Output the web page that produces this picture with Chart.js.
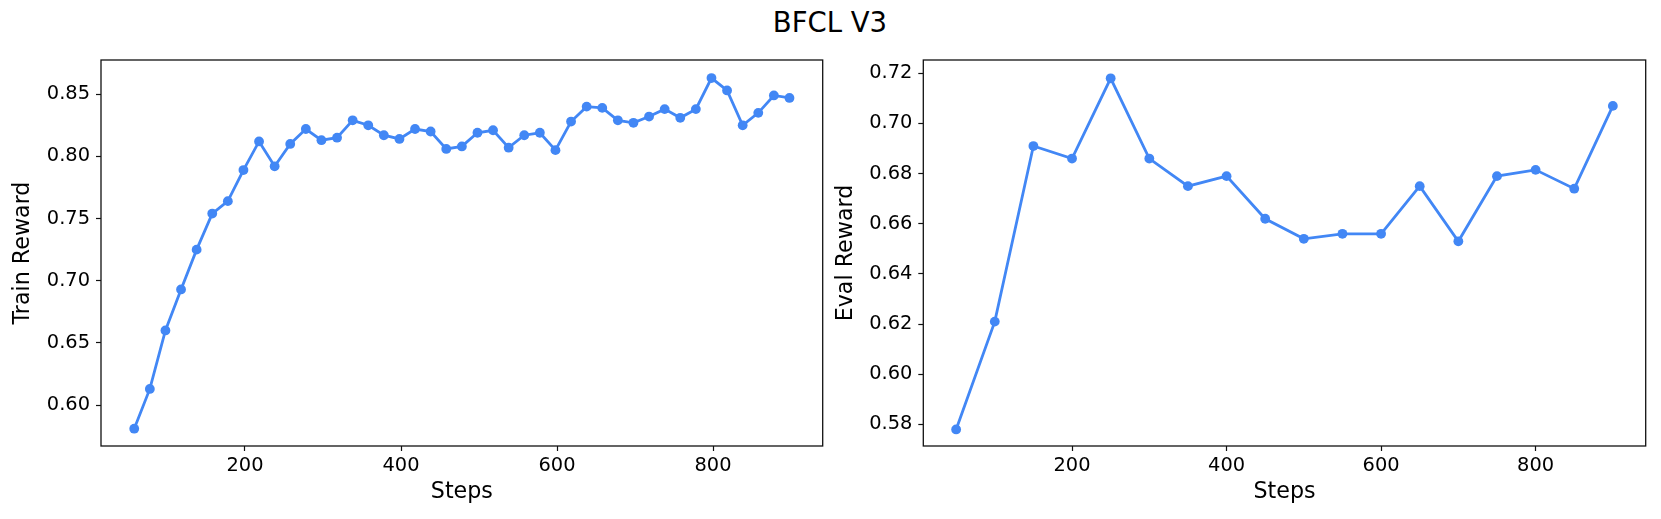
<!DOCTYPE html>
<html>
<head>
<meta charset="utf-8">
<script src="https://cdn.jsdelivr.net/npm/chart.js@4.4.1/dist/chart.umd.min.js"></script>
<style>
  body { margin: 0; background: #fff; width: 1661px; height: 519px; overflow: hidden; position: relative; font-family: 'DejaVu Sans'; }
  #title { position: absolute; left: 0; top: 6px; width: 1660px; text-align: center; font-size: 27.5px; line-height: 32px; color: #000; }
  .box { position: absolute; top: 0; height: 519px; }
  #leftBox { left: 0; width: 830px; }
  #rightBox { left: 830px; width: 831px; }
</style>
</head>
<body>
<div id="title">BFCL V3</div>
<div class="box" id="leftBox"><canvas id="train" width="830" height="519"></canvas></div>
<div class="box" id="rightBox"><canvas id="eval" width="831" height="519"></canvas></div>
<script>
// train curve
const trainSteps = [58, 78, 98, 118, 138, 158, 178, 198, 218, 238, 258, 278, 298, 318, 338, 358, 378, 398, 418, 438, 458, 478,
  498, 518, 538, 558, 578, 598, 618, 638, 658, 678, 698, 718, 738, 758, 778, 798, 818, 838, 858, 878, 898];
const trainReward = [0.581, 0.613, 0.660, 0.693, 0.725, 0.754, 0.764, 0.789, 0.812, 0.792, 0.810, 0.822, 0.813, 0.815, 0.829,
  0.825, 0.817, 0.814, 0.822, 0.820, 0.806, 0.808, 0.819, 0.821, 0.807, 0.817, 0.819, 0.805, 0.828, 0.840, 0.839, 0.829,
  0.827, 0.832, 0.838, 0.831, 0.838, 0.863, 0.853, 0.825, 0.835, 0.849, 0.847];

// eval curve, right panel
const evalSteps = [50, 100, 150, 200, 250, 300, 350, 400, 450, 500, 550, 600, 650, 700, 750, 800, 850, 900];
const evalReward = [0.578, 0.621, 0.691, 0.686, 0.718, 0.686, 0.675, 0.679, 0.662, 0.654, 0.656, 0.656, 0.675, 0.653,
  0.679, 0.6815, 0.674, 0.707];

const stepTicks = [200, 400, 600, 800];
const trainTicks = [0.60, 0.65, 0.70, 0.75, 0.80, 0.85];
const evalTicks = [0.58, 0.60, 0.62, 0.64, 0.66, 0.68, 0.70, 0.72];

Chart.defaults.font.family = 'DejaVu Sans';
Chart.defaults.color = '#000';

const blue = '#4287f5';

// matplotlib style box around the plot area
const frame = {
  id: 'frame',
  afterDraw(chart) {
    const a = chart.chartArea, c = chart.ctx;
    c.save();
    c.strokeStyle = '#111';
    c.lineWidth = 1.3;
    c.strokeRect(a.left, a.top, a.right - a.left, a.bottom - a.top);
    c.restore();
  }
};

const tickGrid = { drawOnChartArea: false, tickLength: 5, tickColor: '#111', tickWidth: 1.2 };

function makeChart(id, steps, values, yTicks, o) {
  return new Chart(document.getElementById(id), {
    type: 'line',
    data: {
      datasets: [{
        data: steps.map((s, i) => ({ x: s, y: values[i] })),
        borderColor: blue,
        backgroundColor: blue,
        borderWidth: 2.8,
        pointRadius: 4.9,
        pointBorderWidth: 0,
        pointHoverRadius: 4.9,
        tension: 0
      }]
    },
    options: {
      responsive: false,
      animation: false,
      events: [],
      layout: { padding: { left: 0, top: 60, right: o.padRight, bottom: 0 } },
      plugins: { legend: { display: false }, tooltip: { enabled: false } },
      scales: {
        x: {
          type: 'linear',
          min: o.xMin,
          max: o.xMax,
          afterBuildTicks: s => { s.ticks = stepTicks.map(v => ({ value: v })); },
          afterFit: s => { s.height = 73; },
          grid: tickGrid,
          border: { display: false },
          ticks: { font: { size: 19.4 }, padding: 3, maxRotation: 0, callback: v => String(v) },
          title: { display: true, text: 'Steps', font: { size: 22.2 }, padding: { top: 0, bottom: 13.8 } }
        },
        y: {
          min: o.yMin,
          max: o.yMax,
          afterBuildTicks: s => { s.ticks = yTicks.map(v => ({ value: v })); },
          afterFit: s => { s.width = o.yWidth; },
          grid: tickGrid,
          border: { display: false },
          ticks: { font: { size: 19.4 }, padding: 6, callback: v => v.toFixed(2) },
          title: { display: true, text: o.yLabel, font: { size: 22.2 }, padding: { top: o.titlePad, bottom: 0 } }
        }
      }
    },
    plugins: [frame]
  });
}

makeChart('train', trainSteps, trainReward, trainTicks, {
  xMin: 15.4, xMax: 940.6, yMin: 0.5671, yMax: 0.8775,
  padRight: 7.3, yWidth: 101, titlePad: 10.3, yLabel: 'Train Reward'
});

makeChart('eval', evalSteps, evalReward, evalTicks, {
  xMin: 7.5, xMax: 942.5, yMin: 0.5714, yMax: 0.7253,
  padRight: 15.3, yWidth: 93.3, titlePad: 2.6, yLabel: 'Eval Reward'
});
</script>
</body>
</html>
